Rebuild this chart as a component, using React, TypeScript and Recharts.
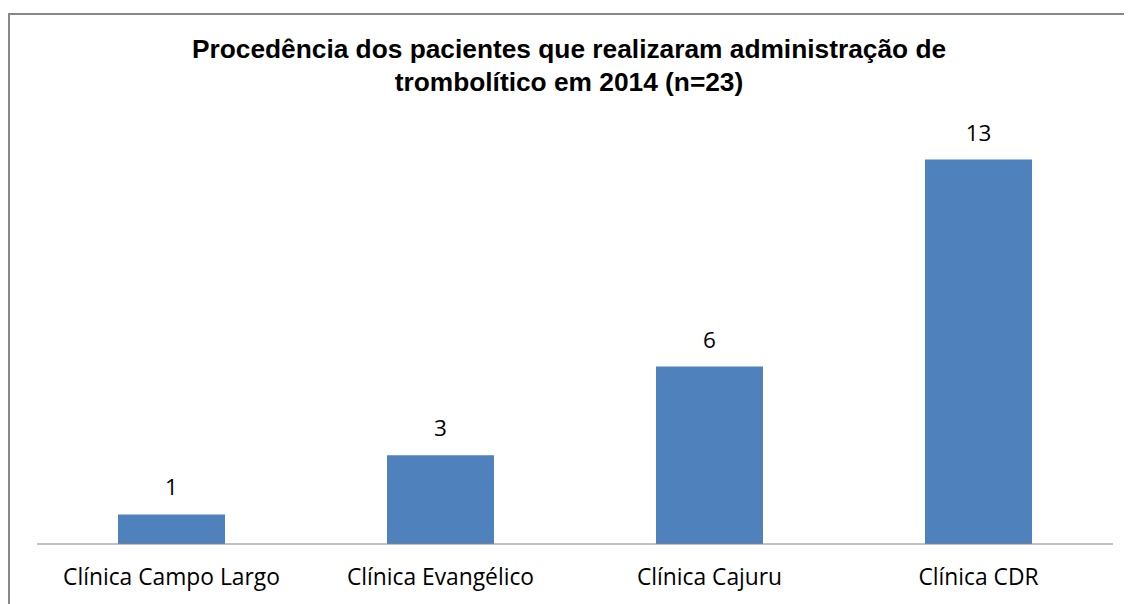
import { BarChart, Bar, XAxis, YAxis, LabelList, ReferenceLine } from 'recharts';

const categories = ['Clínica Campo Largo', 'Clínica Evangélico', 'Clínica Cajuru', 'Clínica CDR'];
const patients = [1, 3, 6, 13];
const titleLines = [
  'Procedência dos pacientes que realizaram administração de',
  'trombolítico em 2014 (n=23)',
];

const data = categories.map((name, i) => ({ name, value: patients[i] }));

const labelFont = '"Open Sans", "Noto Sans", sans-serif';

export default function App() {
  return (
    <div
      style={{
        position: 'relative',
        marginTop: 5,
        width: 1122,
        height: 620,
        border: '2px solid #888888',
        boxSizing: 'border-box',
        background: '#fff',
      }}
    >
      {/* chart title */}
      <div
        style={{
          position: 'absolute',
          top: 18,
          left: 0,
          width: '100%',
          textAlign: 'center',
          fontFamily: '"Liberation Sans", Arial, sans-serif',
          fontWeight: 'bold',
          fontSize: 26.3,
          lineHeight: '33px',
          color: '#000',
        }}
      >
        {titleLines.map((t) => (
          <div key={t}>{t}</div>
        ))}
      </div>
      <BarChart
        width={1118}
        height={600}
        data={data}
        margin={{ top: 115, right: 15, left: 27, bottom: 21 }}
      >
        <YAxis hide domain={[0, 14]} />
        <XAxis
          dataKey="name"
          height={50}
          tickLine={false}
          axisLine={false}
          tickMargin={19}
          tick={{ fill: '#000', fontSize: 22.8, fontFamily: labelFont }}
          interval={0}
        />
        <ReferenceLine y={0} stroke="#868686" strokeWidth={1.2} />
        <Bar dataKey="value" fill="#4F81BD" barSize={107} isAnimationActive={false}>
          <LabelList
            dataKey="value"
            position="top"
            offset={19}
            fill="#000"
            fontSize={22.5}
            fontFamily={labelFont}
          />
        </Bar>
      </BarChart>
    </div>
  );
}
